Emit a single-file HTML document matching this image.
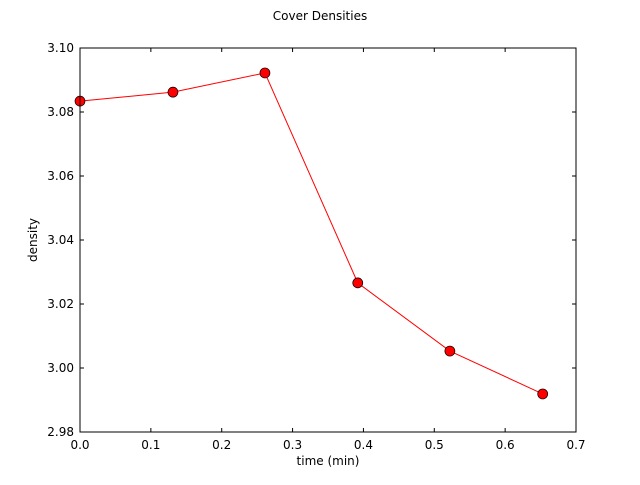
<!DOCTYPE html>
<html><head><meta charset="utf-8"><style>
body{margin:0;background:#fff;}
svg text{font-family:"DejaVu Sans","Liberation Sans",sans-serif;font-size:12px;fill:#000;}
</style></head><body>
<svg id="chart" width="640" height="480" viewBox="0 0 640 480">
<rect width="640" height="480" fill="#fff"/>
<text x="320" y="20" text-anchor="middle">Cover Densities</text>
<g id="plot"></g>
<rect x="80" y="48" width="496" height="384" fill="none" stroke="#000" stroke-width="1"/>
<text x="328" y="465" text-anchor="middle">time (min)</text>
<text transform="translate(37,240) rotate(-90)" text-anchor="middle">density</text>
</svg>
<script>
const xValues=[0,0.1312,0.261,0.392,0.522,0.653];
const yValues=[3.0834,3.0862,3.0922,3.0266,3.0053,2.9919];
const xTicks=[0,0.1,0.2,0.3,0.4,0.5,0.6,0.7];
const xTickLabels=["0.0","0.1","0.2","0.3","0.4","0.5","0.6","0.7"];
const yTicks=[2.98,3.00,3.02,3.04,3.06,3.08,3.10];
const yTickLabels=["2.98","3.00","3.02","3.04","3.06","3.08","3.10"];
const L=80,R=576,T=48,B=432,x0=0,x1=0.7,y0=2.98,y1=3.10;
const sx=v=>L+(v-x0)/(x1-x0)*(R-L);
const sy=v=>B-(v-y0)/(y1-y0)*(B-T);
const ns="http://www.w3.org/2000/svg";
const g=document.getElementById('plot');
function mk(t,a){const e=document.createElementNS(ns,t);for(const k in a)e.setAttribute(k,a[k]);g.appendChild(e);return e;}
xTicks.forEach((v,i)=>{const x=sx(v);
 let e=mk('line',{x1:x,x2:x,y1:B,y2:B-4,stroke:'#000'});
 
 
 e=mk('line',{x1:x,x2:x,y1:T,y2:T+4,stroke:'#000'});
 
 
 e=mk('text',{x:x,y:B+17,'text-anchor':'middle'});e.textContent=xTickLabels[i];
 
 
});
yTicks.forEach((v,i)=>{const y=sy(v);
 let e=mk('line',{x1:L,x2:L+4,y1:y,y2:y,stroke:'#000'});
 
 
 e=mk('line',{x1:R-4,x2:R,y1:y,y2:y,stroke:'#000'});
 
 
 e=mk('text',{x:L-6,y:y+4,'text-anchor':'end'});e.textContent=yTickLabels[i];
 
 
});
const pts=xValues.map((v,i)=>sx(v)+','+sy(yValues[i])).join(' ');
const line=mk('polyline',{points:pts,fill:'none',stroke:'#f00','stroke-width':1});


xValues.forEach((v,i)=>{
 const c=mk('circle',{cx:sx(v),cy:sy(yValues[i]),r:5,fill:'#f00',stroke:'#000','stroke-width':0.7});
 
 
});
</script>
</body></html>
